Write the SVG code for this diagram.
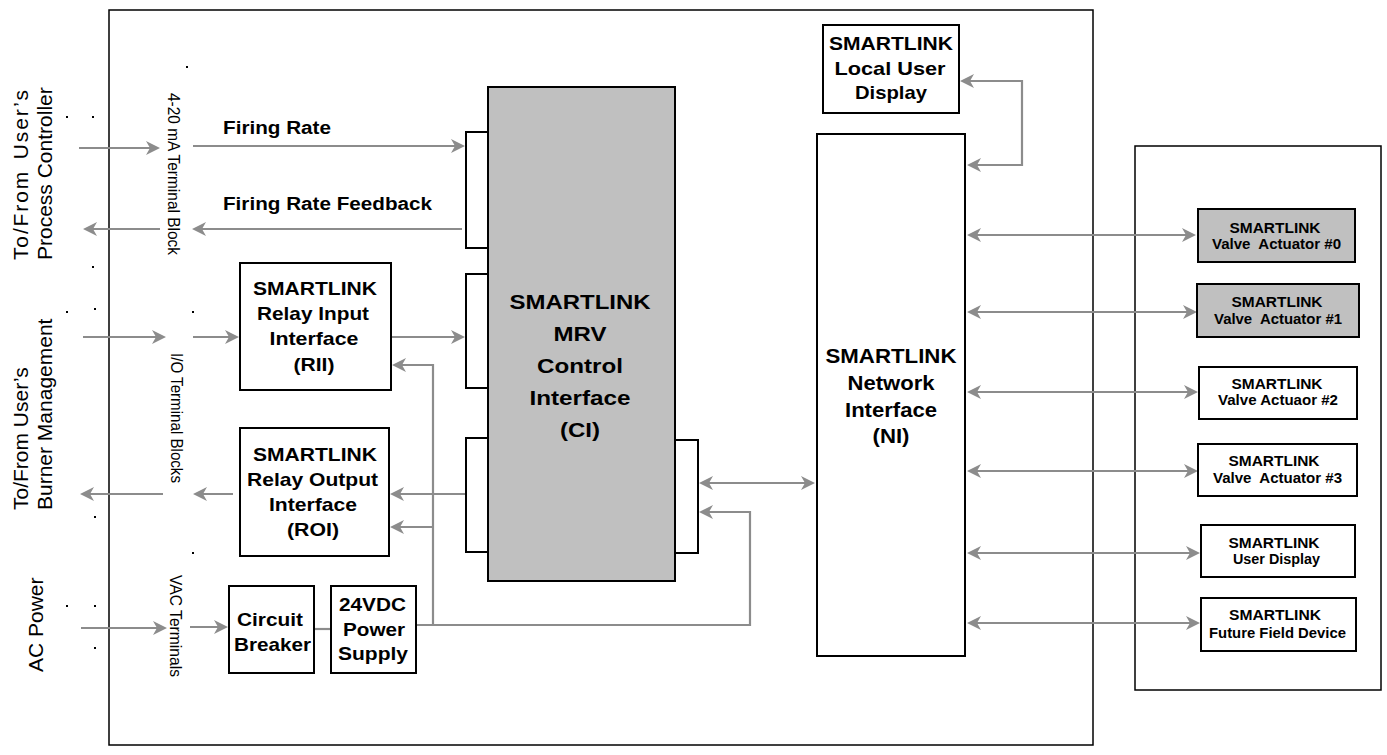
<svg xmlns="http://www.w3.org/2000/svg" width="1387" height="755" viewBox="0 0 1387 755">
<style>
.frame{fill:none;stroke:#000;stroke-width:1.5}
.box{fill:#fff;stroke:#000;stroke-width:2}
.gbox{fill:#c0c0c0;stroke:#000;stroke-width:2}
.c{fill:none;stroke:#8c8c8c;stroke-width:2.2}
.a{marker-end:url(#ah)}
.aa{marker-start:url(#ah);marker-end:url(#ah)}
text{font-family:"Liberation Sans",Arial,sans-serif;fill:#000}
.b{font-weight:bold;text-anchor:middle}
.l{font-weight:bold}
.s{font-weight:bold;text-anchor:middle;font-size:14px}
.v{font-size:21px}
.t{font-size:16.5px}
.dot{fill:#000}
</style>
<defs>
<marker id="ah" markerUnits="userSpaceOnUse" markerWidth="14" markerHeight="14" refX="12" refY="7" orient="auto-start-reverse">
<path d="M0,0 L14,7 L0,14 L4,7 Z" fill="#8c8c8c"/>
</marker>
</defs>

<g id="frames">
<rect class="frame" x="109" y="10" width="984" height="735"/>
<rect class="frame" x="1135" y="146" width="246" height="544"/>
</g>

<g id="labels-left">
<text class="v" transform="translate(28,260) rotate(-90)" textLength="170" lengthAdjust="spacing">To/From<tspan dx="3"> User’s</tspan></text>
<text class="v" transform="translate(52,260) rotate(-90)">Process Controller</text>
<text class="v" transform="translate(28,510) rotate(-90)">To/From User’s</text>
<text class="v" transform="translate(52,510) rotate(-90)">Burner Management</text>
<text class="v" transform="translate(43,672) rotate(-90)">AC Power</text>
<text class="t" transform="translate(168,93) rotate(90)" textLength="162" lengthAdjust="spacingAndGlyphs">4-20 mA Terminal Block</text>
<text class="t" transform="translate(171,353) rotate(90)" textLength="130" lengthAdjust="spacingAndGlyphs">I/O Terminal Blocks</text>
<text class="t" transform="translate(170,575) rotate(90)" textLength="102" lengthAdjust="spacingAndGlyphs">VAC Terminals</text>
<text class="l" x="223" y="134" font-size="18.3" textLength="108" lengthAdjust="spacingAndGlyphs">Firing Rate</text>
<text class="l" x="223" y="210" font-size="18.3" textLength="209" lengthAdjust="spacingAndGlyphs">Firing Rate Feedback</text>
</g>

<g id="dots">
<rect class="dot" x="186" y="66" width="2" height="2"/>
<rect class="dot" x="66" y="116" width="2" height="2"/>
<rect class="dot" x="92" y="116" width="2" height="2"/>
<rect class="dot" x="92" y="266" width="2" height="2"/>
<rect class="dot" x="66" y="311" width="2" height="2"/>
<rect class="dot" x="94" y="308" width="2" height="2"/>
<rect class="dot" x="192" y="311" width="2" height="2"/>
<rect class="dot" x="94" y="516" width="2" height="2"/>
<rect class="dot" x="66" y="605" width="2" height="2"/>
<rect class="dot" x="94" y="605" width="2" height="2"/>
<rect class="dot" x="94" y="647" width="2" height="2"/>
<rect class="dot" x="192" y="552" width="2" height="2"/>
</g>

<g id="connectors">
<path class="c a" d="M79,148 H158"/>
<path class="c a" d="M160,229 H85"/>
<path class="c a" d="M193,146 H463"/>
<path class="c a" d="M462,229 H194"/>
<path class="c a" d="M83,337 H164"/>
<path class="c a" d="M193,337 H237"/>
<path class="c a" d="M391,337 H463"/>
<path class="c a" d="M433,625 V365 H394"/>
<path class="c a" d="M466,494 H392"/>
<path class="c a" d="M433,527 H392"/>
<path class="c a" d="M233,494 H195"/>
<path class="c a" d="M163,494 H82"/>
<path class="c a" d="M81,628 H165"/>
<path class="c a" d="M190,627 H226"/>
<path class="c" d="M314,629 H331"/>
<path class="c a" d="M416,625 H750 V512 H701"/>
<path class="c aa" d="M701,483 H813"/>
<path class="c aa" d="M962,81 H1022 V165 H969"/>
<path class="c aa" d="M969,235 H1194"/>
<path class="c aa" d="M969,312 H1195"/>
<path class="c aa" d="M969,392 H1196"/>
<path class="c aa" d="M969,471 H1196"/>
<path class="c aa" d="M969,553 H1198"/>
<path class="c aa" d="M969,623 H1198"/>
</g>

<g id="ci">
<rect class="gbox" x="488" y="87" width="187" height="494"/>
<rect class="box" x="466" y="132" width="22" height="116"/>
<rect class="box" x="466" y="274" width="22" height="114"/>
<rect class="box" x="466" y="438" width="22" height="114"/>
<rect class="box" x="675" y="440" width="23" height="113"/>
<g font-size="21">
<text class="b" x="580" y="309" textLength="141" lengthAdjust="spacingAndGlyphs">SMARTLINK</text>
<text class="b" x="580" y="341" textLength="53" lengthAdjust="spacingAndGlyphs">MRV</text>
<text class="b" x="580" y="373" textLength="86" lengthAdjust="spacingAndGlyphs">Control</text>
<text class="b" x="580" y="405" textLength="101" lengthAdjust="spacingAndGlyphs">Interface</text>
<text class="b" x="580" y="437" textLength="40" lengthAdjust="spacingAndGlyphs">(CI)</text>
</g>
</g>

<g id="ni">
<rect class="box" x="817" y="134" width="148" height="522"/>
<g font-size="19.5">
<text class="b" x="891" y="363" textLength="131" lengthAdjust="spacingAndGlyphs">SMARTLINK</text>
<text class="b" x="891" y="390" textLength="87" lengthAdjust="spacingAndGlyphs">Network</text>
<text class="b" x="891" y="417" textLength="92" lengthAdjust="spacingAndGlyphs">Interface</text>
<text class="b" x="891" y="443" textLength="37" lengthAdjust="spacingAndGlyphs">(NI)</text>
</g>
</g>

<g id="local-display">
<rect class="box" x="823" y="25" width="136" height="88"/>
<g font-size="18.5">
<text class="b" x="891" y="50" textLength="124" lengthAdjust="spacingAndGlyphs">SMARTLINK</text>
<text class="b" x="890" y="75" textLength="111" lengthAdjust="spacingAndGlyphs">Local User</text>
<text class="b" x="891" y="99" textLength="72" lengthAdjust="spacingAndGlyphs">Display</text>
</g>
</g>

<g id="rii">
<rect class="box" x="240" y="263" width="151" height="127"/>
<g font-size="18.6">
<text class="b" x="315" y="295" textLength="124" lengthAdjust="spacingAndGlyphs">SMARTLINK</text>
<text class="b" x="313" y="320" textLength="112" lengthAdjust="spacingAndGlyphs">Relay Input</text>
<text class="b" x="314" y="345" textLength="89" lengthAdjust="spacingAndGlyphs">Interface</text>
<text class="b" x="314" y="370.5" textLength="41" lengthAdjust="spacingAndGlyphs">(RII)</text>
</g>
</g>

<g id="roi">
<rect class="box" x="240" y="428" width="149" height="128"/>
<g font-size="18.6">
<text class="b" x="315" y="461" textLength="124" lengthAdjust="spacingAndGlyphs">SMARTLINK</text>
<text class="b" x="312.5" y="486" textLength="131" lengthAdjust="spacingAndGlyphs">Relay Output</text>
<text class="b" x="313" y="511" textLength="88" lengthAdjust="spacingAndGlyphs">Interface</text>
<text class="b" x="313" y="536" textLength="52" lengthAdjust="spacingAndGlyphs">(ROI)</text>
</g>
</g>

<g id="breaker">
<rect class="box" x="229" y="586" width="85" height="87"/>
<g font-size="18.6">
<text class="b" x="270" y="626" textLength="66" lengthAdjust="spacingAndGlyphs">Circuit</text>
<text class="b" x="272.5" y="651" textLength="77" lengthAdjust="spacingAndGlyphs">Breaker</text>
</g>
</g>

<g id="psu">
<rect class="box" x="331" y="586" width="85" height="87"/>
<g font-size="18.6">
<text class="b" x="372.5" y="611" textLength="67" lengthAdjust="spacingAndGlyphs">24VDC</text>
<text class="b" x="374" y="636" textLength="62" lengthAdjust="spacingAndGlyphs">Power</text>
<text class="b" x="373" y="660" textLength="70" lengthAdjust="spacingAndGlyphs">Supply</text>
</g>
</g>

<g id="va0">
<rect class="gbox" x="1198" y="209" width="157" height="53"/>
<text class="s" x="1275" y="232.5" textLength="91" lengthAdjust="spacingAndGlyphs">SMARTLINK</text>
<text class="s" x="1276.5" y="248.5" xml:space="preserve" textLength="129" lengthAdjust="spacingAndGlyphs">Valve  Actuator #0</text>
</g>
<g id="va1">
<rect class="gbox" x="1197" y="284" width="162" height="53"/>
<text class="s" x="1277" y="307" textLength="91" lengthAdjust="spacingAndGlyphs">SMARTLINK</text>
<text class="s" x="1278" y="323.5" xml:space="preserve" textLength="128" lengthAdjust="spacingAndGlyphs">Valve  Actuator #1</text>
</g>
<g id="va2">
<rect class="box" x="1199" y="367" width="158" height="52"/>
<text class="s" x="1277" y="389" textLength="91" lengthAdjust="spacingAndGlyphs">SMARTLINK</text>
<text class="s" x="1278" y="405" textLength="120" lengthAdjust="spacingAndGlyphs">Valve Actuaor #2</text>
</g>
<g id="va3">
<rect class="box" x="1198" y="444" width="159" height="52"/>
<text class="s" x="1274" y="466" textLength="91" lengthAdjust="spacingAndGlyphs">SMARTLINK</text>
<text class="s" x="1277.5" y="482.5" xml:space="preserve" textLength="129" lengthAdjust="spacingAndGlyphs">Valve  Actuator #3</text>
</g>
<g id="ud">
<rect class="box" x="1201" y="525" width="154" height="52"/>
<text class="s" x="1274" y="547.5" textLength="91" lengthAdjust="spacingAndGlyphs">SMARTLINK</text>
<text class="s" x="1276.5" y="564" textLength="87" lengthAdjust="spacingAndGlyphs">User Display</text>
</g>
<g id="ffd">
<rect class="box" x="1201" y="598" width="155" height="53"/>
<text class="s" x="1275" y="620" textLength="92" lengthAdjust="spacingAndGlyphs">SMARTLINK</text>
<text class="s" x="1277.5" y="638" textLength="137" lengthAdjust="spacingAndGlyphs">Future Field Device</text>
</g>
</svg>
